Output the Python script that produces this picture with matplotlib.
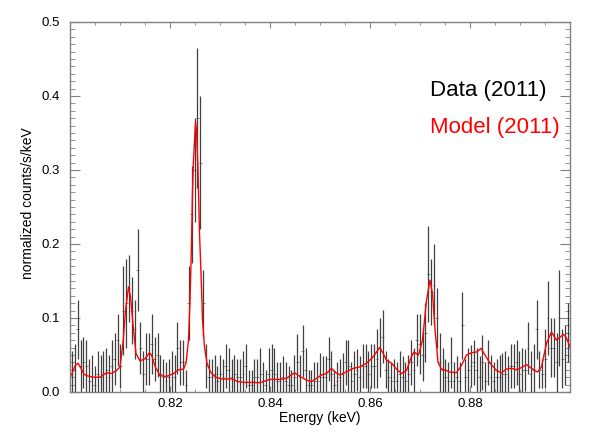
import matplotlib
matplotlib.use("Agg")
import matplotlib.pyplot as plt
from matplotlib.ticker import MultipleLocator
import numpy as np

plt.rcParams['font.family'] = ['Liberation Sans', 'DejaVu Sans']

# spectrum bins (keV): first centre and width
bin_start = 0.8004
bin_width = 0.00057

data_flux = [
    0.025, 0.03, 0.085, 0.035, 0.04, 0.035, 0.015, 0.02, 0.01, 0.025,
    0.02, 0.025, 0.03, 0.02, 0.035, 0.045, 0.07, 0.035, 0.11, 0.12,
    0.14, 0.11, 0.085, 0.165, 0.06, 0.025, 0.045, 0.045, 0.065, 0.045,
    0.05, 0.025, 0.02, 0.015, 0.02, 0.025, 0.02, 0.06, 0.04, 0.04,
    0.01, 0.12, 0.24, 0.30, 0.37, 0.31, 0.12, 0.035, 0.02, 0.02,
    0.025, 0.015, 0.025, 0.02, 0.035, 0.03, 0.02, 0.025, 0.02, 0.02,
    0.025, 0.035, 0.01, 0.01, 0.02, 0.02, 0.025, 0.015, 0.01, 0.025,
    0.03, 0.025, 0.015, 0.015, 0.02, 0.015, 0.01, 0.01, 0.02, 0.04,
    0.02, 0.055, 0.03, 0.01, 0.01, 0.015, 0.015, 0.025, 0.02, 0.02,
    0.045, 0.025, 0.01, 0.015, 0.02, 0.025, 0.04, 0.035, 0.015, 0.025,
    0.03, 0.02, 0.035, 0.035, 0.025, 0.035, 0.035, 0.045, 0.06, 0.075,
    0.03, 0.02, 0.015, 0.02, 0.015, 0.025, 0.02, 0.015, 0.025, 0.04,
    0.03, 0.07, 0.065, 0.05, 0.08, 0.16, 0.135, 0.145, 0.1, 0.04,
    0.03, 0.02, 0.015, 0.04, 0.015, 0.02, 0.015, 0.09, 0.02, 0.03,
    0.035, 0.04, 0.03, 0.02, 0.04, 0.015, 0.04, 0.02, 0.015, 0.02,
    0.02, 0.025, 0.025, 0.02, 0.035, 0.035, 0.04, 0.025, 0.03, 0.03,
    0.06, 0.025, 0.03, 0.085, 0.03, 0.025, 0.045, 0.1, 0.06, 0.06,
    0.04, 0.1, 0.045, 0.05, 0.08,
]

data_err = [
    0.03, 0.035, 0.04, 0.035, 0.035, 0.035, 0.03, 0.03, 0.025, 0.03,
    0.03, 0.03, 0.03, 0.03, 0.035, 0.035, 0.035, 0.03, 0.06, 0.06,
    0.045, 0.045, 0.04, 0.055, 0.035, 0.03, 0.035, 0.035, 0.04, 0.03,
    0.03, 0.025, 0.025, 0.025, 0.025, 0.03, 0.03, 0.035, 0.03, 0.03,
    0.02, 0.05, 0.065, 0.07, 0.095, 0.09, 0.045, 0.03, 0.025, 0.025,
    0.025, 0.02, 0.025, 0.025, 0.03, 0.03, 0.025, 0.025, 0.025, 0.025,
    0.03, 0.03, 0.02, 0.02, 0.025, 0.025, 0.035, 0.025, 0.02, 0.035,
    0.035, 0.035, 0.025, 0.025, 0.028, 0.025, 0.025, 0.02, 0.03, 0.038,
    0.03, 0.035, 0.03, 0.02, 0.02, 0.025, 0.025, 0.028, 0.028, 0.028,
    0.03, 0.03, 0.02, 0.025, 0.025, 0.028, 0.03, 0.035, 0.025, 0.03,
    0.028, 0.028, 0.03, 0.03, 0.03, 0.03, 0.03, 0.04, 0.04, 0.036,
    0.025, 0.025, 0.025, 0.025, 0.025, 0.03, 0.028, 0.025, 0.025, 0.03,
    0.03, 0.035, 0.04, 0.035, 0.04, 0.065, 0.045, 0.055, 0.04, 0.04,
    0.03, 0.025, 0.025, 0.035, 0.025, 0.028, 0.025, 0.045, 0.025, 0.03,
    0.028, 0.03, 0.03, 0.028, 0.037, 0.025, 0.03, 0.03, 0.025, 0.025,
    0.03, 0.028, 0.03, 0.028, 0.03, 0.03, 0.03, 0.03, 0.03, 0.028,
    0.035, 0.03, 0.035, 0.04, 0.025, 0.02, 0.04, 0.05, 0.04, 0.04,
    0.04, 0.065, 0.04, 0.04, 0.04,
]

model_keV = [
    0.8000, 0.8004, 0.8010, 0.8016, 0.8022, 0.8028, 0.8034, 0.8046, 0.8060, 0.8073,
    0.8083, 0.8093, 0.8100, 0.8106, 0.8111, 0.8117, 0.8121, 0.8127, 0.8132, 0.8140,
    0.8150, 0.8159, 0.8163, 0.8170, 0.8180, 0.8193, 0.8207, 0.8217, 0.8227, 0.8232,
    0.8237, 0.8240, 0.8243, 0.8245, 0.8247, 0.8251, 0.8253, 0.8256, 0.8259, 0.8263,
    0.8265, 0.8269, 0.8274, 0.8281, 0.8291, 0.8304, 0.8324, 0.8336, 0.8350, 0.8364,
    0.8380, 0.8400, 0.8420, 0.8433, 0.8449, 0.8460, 0.8473, 0.8483, 0.8493, 0.8503,
    0.8513, 0.8523, 0.8532, 0.8540, 0.8553, 0.8567, 0.8580, 0.8593, 0.8603, 0.8612,
    0.8619, 0.8625, 0.8633, 0.8643, 0.8653, 0.8663, 0.8673, 0.8683, 0.8688, 0.8697,
    0.8705, 0.8713, 0.8720, 0.8725, 0.8730, 0.8736, 0.8743, 0.8753, 0.8760, 0.8773,
    0.8783, 0.8793, 0.8803, 0.8813, 0.8822, 0.8830, 0.8840, 0.8853, 0.8863, 0.8873,
    0.8883, 0.8893, 0.8903, 0.8913, 0.8923, 0.8935, 0.8943, 0.8953, 0.8963, 0.8973,
    0.8987, 0.8993, 0.9000,
]

model_flux = [
    0.020, 0.025, 0.035, 0.039, 0.032, 0.024, 0.022, 0.020, 0.020, 0.026,
    0.025, 0.029, 0.034, 0.066, 0.110, 0.142, 0.129, 0.084, 0.052, 0.042,
    0.045, 0.053, 0.050, 0.035, 0.022, 0.021, 0.025, 0.030, 0.031, 0.039,
    0.070, 0.124, 0.200, 0.270, 0.313, 0.365, 0.354, 0.300, 0.215, 0.142,
    0.097, 0.061, 0.039, 0.027, 0.020, 0.0176, 0.0176, 0.014, 0.013, 0.013,
    0.0126, 0.017, 0.017, 0.0185, 0.026, 0.021, 0.016, 0.014, 0.0185, 0.023,
    0.025, 0.032, 0.026, 0.023, 0.0275, 0.032, 0.034, 0.039, 0.045, 0.053,
    0.060, 0.054, 0.043, 0.039, 0.031, 0.025, 0.029, 0.048, 0.054, 0.050,
    0.070, 0.124, 0.151, 0.133, 0.085, 0.040, 0.031, 0.029, 0.027, 0.026,
    0.036, 0.050, 0.053, 0.054, 0.059, 0.050, 0.039, 0.029, 0.026, 0.031,
    0.032, 0.030, 0.033, 0.037, 0.032, 0.027, 0.034, 0.066, 0.081, 0.070,
    0.078, 0.073, 0.061,
]

energy = bin_start + bin_width * np.arange(len(data_flux))

fig = plt.figure(figsize=(5.92, 4.37), dpi=100)
ax = fig.add_axes([70 / 592, 45 / 437, 500 / 592, 370 / 437])

eb = ax.errorbar(energy, data_flux, yerr=data_err, xerr=bin_width / 2,
                 fmt='none', ecolor='0.25', elinewidth=0.9, capsize=0)
# horizontal bin bars are faint in the original
xbars, ybars = eb[2]
xbars.set_linewidth(0.6)
xbars.set_color('0.45')
ax.plot(model_keV, model_flux, color='red', lw=1.0)

ax.set_xlim(0.80, 0.90)
ax.set_ylim(0.0, 0.5)
ax.xaxis.set_minor_locator(MultipleLocator(0.005))
ax.yaxis.set_major_locator(MultipleLocator(0.1))
ax.yaxis.set_minor_locator(MultipleLocator(0.01))
ax.set_xticks([0.82, 0.84, 0.86, 0.88])
ax.set_xticklabels(['0.82', '0.84', '0.86', '0.88'])
ax.set_yticklabels(['%.1f' % v for v in ax.get_yticks()])

ax.tick_params(which='both', direction='in', top=True, right=True,
               color='0.5', labelsize=9.5)
ax.tick_params(axis='x', which='major', length=4, pad=4)
ax.tick_params(axis='x', which='minor', length=2.5)
ax.tick_params(axis='y', which='major', length=7, pad=7)
ax.tick_params(axis='y', which='minor', length=3.5)
for s in ax.spines.values():
    s.set_color('0.5')
    s.set_linewidth(1.0)

ax.set_xlabel('Energy (keV)', fontsize=10, labelpad=1)
ax.set_ylabel('normalized counts/s/keV', fontsize=10, labelpad=2)
ax.yaxis.set_label_coords(-0.07, 0.51)

ax.text(0.72, 0.80, 'Data (2011)', transform=ax.transAxes,
        fontsize=16, color='black')
ax.text(0.72, 0.70, 'Model (2011)', transform=ax.transAxes,
        fontsize=16, color='red')

fig.savefig('out.png', dpi=100)
